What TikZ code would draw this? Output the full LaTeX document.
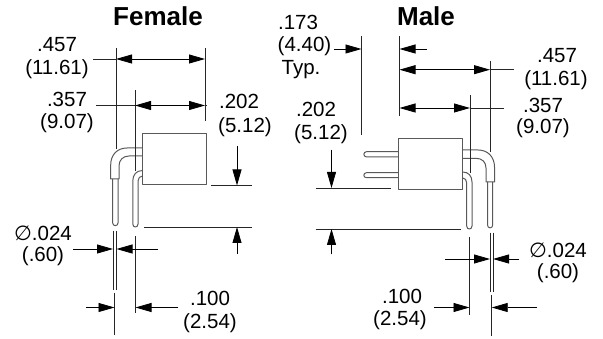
\documentclass[tikz,border=0pt]{standalone}
\usepackage{fontspec}
\setmainfont{Liberation Sans}
\newfontfamily\symfont{DejaVu Sans}
\usetikzlibrary{arrows.meta}
\tikzset{
  every node/.style={inner sep=0pt,outer sep=0pt},
  lbl/.style={font=\fontsize{20.5}{24}\selectfont,anchor=center},
  ttl/.style={font=\fontsize{26}{30}\selectfont\bfseries,anchor=center},
  ext/.style={line width=0.8pt,draw=black!85},
  tipped/.style={line width=0.8pt,-{Triangle[length=16pt,width=9pt]}},
  twotip/.style={line width=0.8pt,{Triangle[length=16pt,width=9pt]}-{Triangle[length=16pt,width=9pt]}},
  part/.style={line width=1pt,draw=black!65,line join=round},
}
\begin{document}
\begin{tikzpicture}[x=1pt,y=-1pt]
\useasboundingbox (0,0) rectangle (603,339);
% ---------- Titles
\node[ttl] (tf) at (158,16) {Female};
\node[ttl] (tm) at (426,16) {Male};
% ---------- Female labels
\node[lbl] (f1) at (57,45) {.457};
\node[lbl] (f2) at (57,69) {(11.61)};
\node[lbl] (f3) at (67,99) {.357};
\node[lbl] (f4) at (67,123) {(9.07)};
\node[lbl] (f5) at (239,101) {.202};
\node[lbl] (f6) at (245,127) {(5.12)};
\node[lbl] (f7) at (43,233) {{\symfont ∅}.024};
\node[lbl] (f8) at (43,256) {(.60)};
\node[lbl] (f9) at (210,298) {.100};
\node[lbl] (f10) at (210,323) {(2.54)};
% ---------- Male labels
\node[lbl] (m1) at (298,22) {.173};
\node[lbl] (m2) at (304.5,46) {(4.40)};
\node[lbl] (m3) at (301,70) {Typ.};
\node[lbl] (m4) at (316,109) {.202};
\node[lbl] (m5) at (321,134) {(5.12)};
\node[lbl] (m6) at (557,56) {.457};
\node[lbl] (m7) at (556,80) {(11.61)};
\node[lbl] (m8) at (543,105) {.357};
\node[lbl] (m9) at (543,128) {(9.07)};
\node[lbl] (m10) at (558,250) {{\symfont ∅}.024};
\node[lbl] (m11) at (558,273) {(.60)};
\node[lbl] (m12) at (402,296) {.100};
\node[lbl] (m13) at (400,320) {(2.54)};
% ---------- Female part
\draw[part] (142.7,133.5) rectangle (206.5,185);
\draw[part] (142.7,148) -- (127,148) .. controls (117,148) and (110.7,155) .. (110.7,165) -- (110.7,179) -- (119,179) -- (119,166) .. controls (119,160) and (123,156) .. (129,156) -- (142.7,156);
\draw[part] (112.7,179) -- (112.7,223) .. controls (112.7,226.5) and (118,226.5) .. (118,223) -- (118,179);
\draw[part] (142.7,170.5) .. controls (136,170.5) and (132.8,175) .. (132.8,181) -- (132.8,224) .. controls (132.8,228) and (138,228) .. (138,224) -- (138,181) .. controls (138,178) and (140,176) .. (142.7,176);
% ---------- Female dimensions
\draw[ext] (116,48) -- (116,149);
\draw[ext] (205,48) -- (205,121);
\draw[ext] (135,90) -- (135,171);
\draw[twotip] (116,59) -- (205,59);
\draw[ext] (93,59) -- (116,59);
\draw[twotip] (135,105.5) -- (205,105.5);
\draw[ext] (96,105.5) -- (135,105.5) (205,105.5) -- (207,105.5);
\draw[ext] (211,185.5) -- (252,185.5);
\draw[ext] (144,227) -- (252,227);
\draw[tipped] (237,146) -- (237,185.5);
\draw[tipped] (237,254) -- (237,227);
\draw[ext] (113,231) -- (113,290);
\draw[ext] (116.5,231) -- (116.5,290);
\draw[ext] (135.5,236) -- (135.5,313);
\draw[ext] (114.5,293) -- (114.5,335);
\draw[tipped] (73,249) -- (113,249);
\draw[tipped] (158,249) -- (116.5,249);
\draw[tipped] (86,307.5) -- (114.5,307.5);
\draw[tipped] (178,307.5) -- (135.5,307.5);
% ---------- Male part
\draw[part] (398,138.7) rectangle (462.7,190);
\draw[part] (398,151.7) -- (366.5,151.7) .. controls (363,151.7) and (363,156.9) .. (366.5,156.9) -- (398,156.9);
\draw[part] (398,172.7) -- (366.5,172.7) .. controls (363,172.7) and (363,177.7) .. (366.5,177.7) -- (398,177.7);
\draw[part] (462.7,150) -- (478,150) .. controls (488,150) and (494.5,157) .. (494.5,167) -- (494.5,182) -- (486,182) -- (486,168) .. controls (486,162) and (482,158.3) .. (476,158.3) -- (462.7,158.3);
\draw[part] (487.5,182) -- (487.5,225) .. controls (487.5,228.8) and (492.7,228.8) .. (492.7,225) -- (492.7,182);
\draw[part] (462.7,172) .. controls (468.5,172) and (472,176) .. (472,182) -- (472,226) .. controls (472,230) and (466.7,230) .. (466.7,226) -- (466.7,183) .. controls (466.7,180) and (465,178) .. (462.7,178);
% ---------- Male dimensions
\draw[ext] (361.5,36) -- (361.5,135);
\draw[ext] (399.5,36) -- (399.5,116);
\draw[ext] (490,61) -- (490,152);
\draw[ext] (470,95) -- (470,173);
\draw[tipped] (334,49) -- (361.5,49);
\draw[tipped] (427,49) -- (399.5,49);
\draw[twotip] (399.5,69.7) -- (490,69.7);
\draw[ext] (490,69.7) -- (514,69.7);
\draw[twotip] (399.5,108) -- (470,108);
\draw[ext] (470,108) -- (504,108);
\draw[ext] (315.7,188) -- (391,188);
\draw[ext] (315.7,229) -- (461,229);
\draw[tipped] (331.5,150) -- (331.5,188);
\draw[tipped] (331.5,254.5) -- (331.5,229);
\draw[ext] (490,232.7) -- (490,291.7);
\draw[ext] (493,232.7) -- (493,291.7);
\draw[ext] (469.5,237) -- (469.5,315);
\draw[ext] (491.7,295.5) -- (491.7,336);
\draw[tipped] (445,259) -- (490,259);
\draw[tipped] (519,259) -- (493,259);
\draw[tipped] (434,307.5) -- (469.5,307.5);
\draw[tipped] (537,307.5) -- (491.7,307.5);
\end{tikzpicture}
\end{document}
